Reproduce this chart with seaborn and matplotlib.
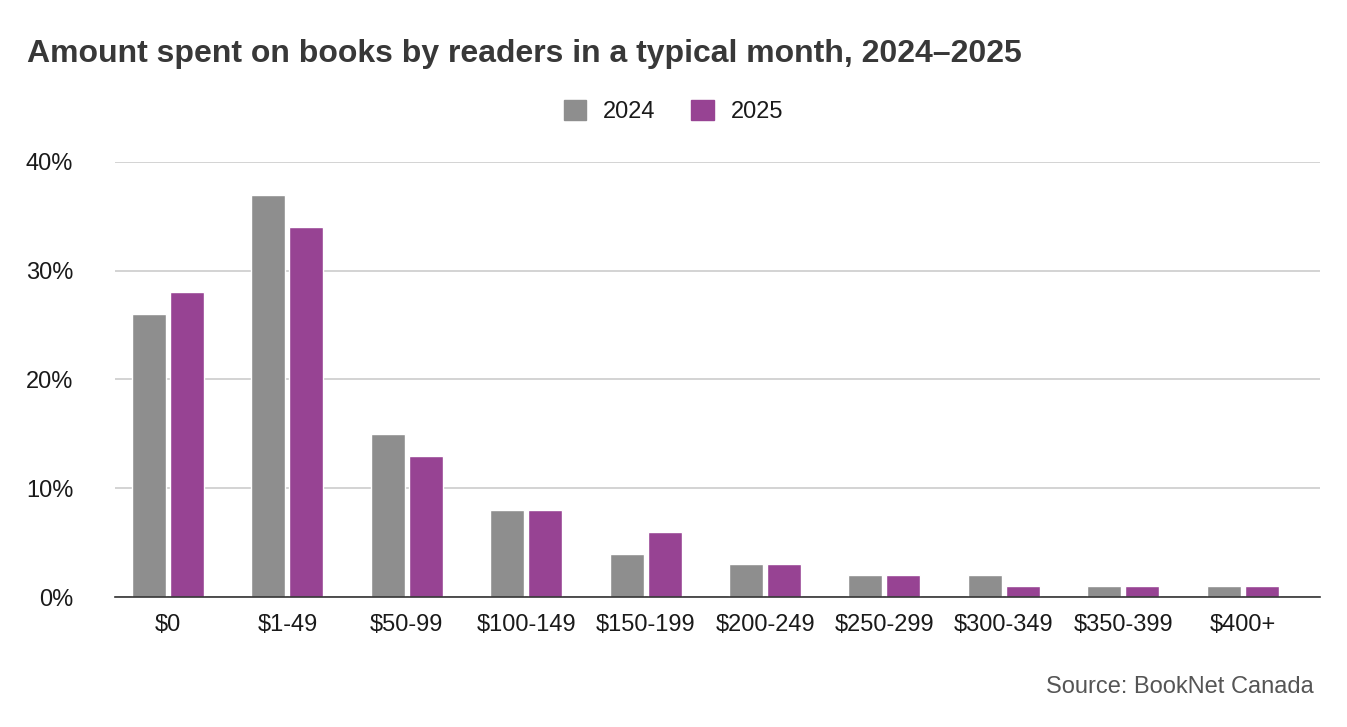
import pandas as pd
import seaborn as sns
import matplotlib.pyplot as plt

# data (percent of readers)
categories = ['$0', '$1-49', '$50-99', '$100-149', '$150-199',
              '$200-249', '$250-299', '$300-349', '$350-399', '$400+']
years = ['2024', '2025']
pct_2024 = [26, 37, 15, 8, 4, 3, 2, 2, 1, 1]
pct_2025 = [28, 34, 13, 8, 6, 3, 2, 1, 1, 1]
colors = {'2024': '#8e8e8e', '2025': '#974393'}

df = pd.DataFrame({
    'bucket': categories * 2,
    'year': [years[0]] * len(categories) + [years[1]] * len(categories),
    'pct': pct_2024 + pct_2025,
})

sns.set_style('white')
plt.rcParams['font.family'] = ['Liberation Sans', 'DejaVu Sans']

fig = plt.figure(figsize=(13.47, 7.27), dpi=100)
ax = fig.add_axes([0.0854, 0.1788, 0.8946, 0.5984])

sns.barplot(data=df, x='bucket', y='pct', hue='year', palette=colors,
            saturation=1, width=0.636, gap=0.105, ax=ax, legend=False)

ax.set_ylim(0, 40)
ax.set_xlim(-0.444, 9.648)
ax.set_yticks([0, 10, 20, 30, 40])
ax.set_yticklabels([f'{t}%' for t in [0, 10, 20, 30, 40]])
ax.yaxis.grid(True, color='#cccccc', linewidth=1.2)
ax.set_axisbelow(True)
ax.set_xlabel('')
ax.set_ylabel('')
for s in ['top', 'right', 'left']:
    ax.spines[s].set_visible(False)
ax.spines['bottom'].set_color('#333333')
ax.spines['bottom'].set_linewidth(1.2)
ax.tick_params(axis='both', length=0, labelsize=17, colors='#1a1a1a')
ax.tick_params(axis='x', pad=12)
ax.tick_params(axis='y', pad=30)
for lbl in ax.get_yticklabels():
    lbl.set_horizontalalignment('right')

# title, legend, source
fig.text(0.02, 0.926, 'Amount spent on books by readers in a typical month, 2024\u20132025',
         fontsize=23, fontweight='bold', color='#383838', va='center')
handles = [plt.Rectangle((0, 0), 1, 1, color=colors[y]) for y in years]
fig.legend(handles, years, loc='center', bbox_to_anchor=(0.5, 0.847), ncol=2,
           frameon=False, fontsize=17, handlelength=0.95, handleheight=0.95,
           columnspacing=1.5, handletextpad=0.72, labelcolor='#1a1a1a')
fig.text(0.975, 0.055, 'Source: BookNet Canada', fontsize=17, color='#555555',
         ha='right', va='center')

fig.savefig('out.png', dpi=100)
